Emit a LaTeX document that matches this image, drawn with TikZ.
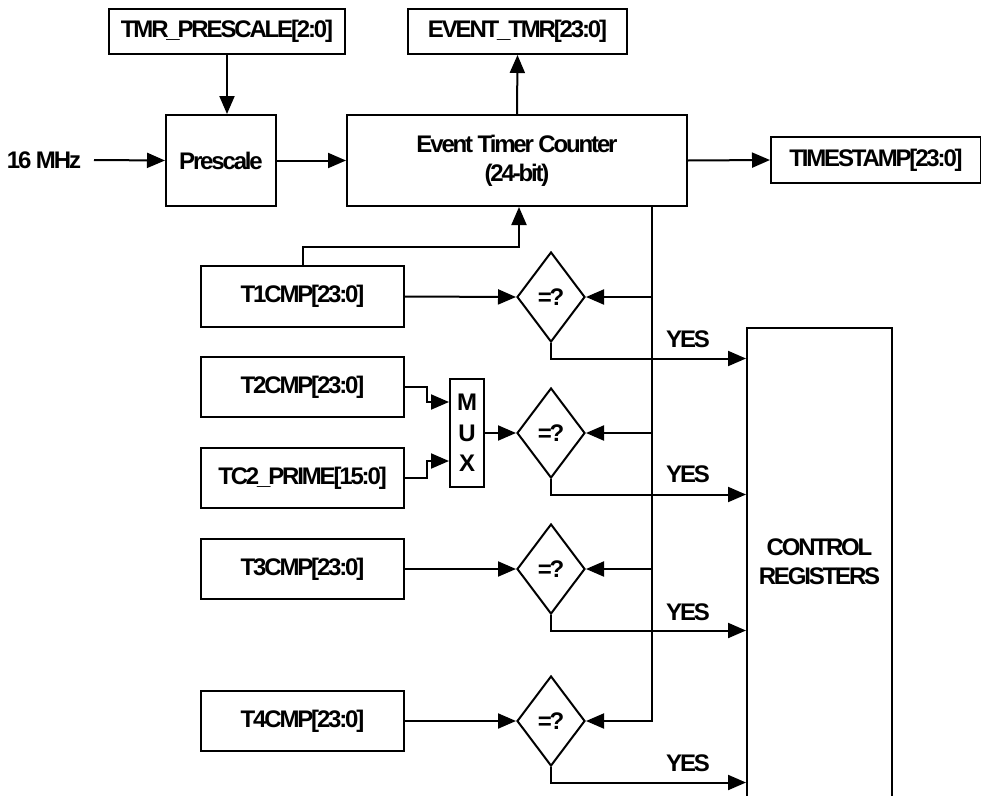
\documentclass[tikz,border=0pt]{standalone}
\usepackage{fontspec}
\setmainfont{Liberation Sans}[LetterSpace=-9]
\usetikzlibrary{arrows.meta,shapes.geometric}
\begin{document}
\begin{tikzpicture}[x=1pt,y=-1pt,
  every node/.style={font=\fontsize{24}{29}\selectfont\bfseries, inner sep=0pt},
  box/.style={draw, line width=2pt, rectangle, align=center},
  cmpbox/.style={box, minimum width=203pt, minimum height=60pt},
  cmp/.style={draw, line width=2pt, diamond, minimum width=68pt, minimum height=90pt},
  wire/.style={line width=2pt},
  flow/.style={wire, -{Triangle[length=18pt,width=15pt]}}]
\useasboundingbox (0,0) rectangle (981,795);

% top row: prescaler and event timer counter
\node[box, minimum width=236pt, minimum height=45pt] (prs) at (227,31.5) {TMR\_PRESCALE[2:0]};
\node[box, minimum width=219pt, minimum height=45pt] (evt) at (517.5,31.5) {EVENT\_TMR[23:0]};
\node[box, minimum width=110pt, minimum height=91pt] (pre) at (221,160.5) {Prescale};
\node[box, minimum width=340pt, minimum height=91pt, text depth=4pt] (etc) at (517,160.5) {Event Timer Counter\\(24-bit)};
\node[box, minimum width=210pt, minimum height=46pt] (ts) at (876,160) {TIMESTAMP[23:0]};
\node (clk) at (44,160) {16 MHz};
\coordinate (clkout) at (94,160);

% compare registers
\node[cmpbox, minimum height=61pt] (t1) at (302.5,296.5) {T1CMP[23:0]};
\node[cmpbox] (t2) at (302.5,387) {T2CMP[23:0]};
\node[cmpbox] (tc2) at (302.5,478) {TC2\_PRIME[15:0]};
\node[cmpbox] (t3) at (302.5,569) {T3CMP[23:0]};
\node[cmpbox] (t4) at (302.5,721) {T4CMP[23:0]};

% multiplexer
\node[box, minimum width=34pt, minimum height=108pt, font=\fontsize{24}{30.5}\selectfont\bfseries] (mux) at (467,433) {M\\U\\X};

% comparators
\node[cmp] (d1) at (551,297) {=?};
\node[cmp] (d2) at (551,433) {=?};
\node[cmp] (d3) at (551,569) {=?};
\node[cmp] (d4) at (551,721) {=?};

% control registers (bottom edge runs off the page)
\node[box, minimum width=145pt, minimum height=477pt, text depth=9pt] (cr) at (819.5,566.5) {CONTROL\\REGISTERS};

% YES labels
\node (y1) at (688,339) {YES};
\node (y2) at (688,474) {YES};
\node (y3) at (688,612) {YES};
\node (y4) at (688,763) {YES};

% counter bus tap
\coordinate (bustop) at (652,206);

% connectors
\draw[flow] (prs.south) -- (prs.south |- pre.north);
\draw[flow] (clkout) -- (pre.west);
\draw[flow] (pre.east) -- (etc.west);
\draw[flow] (etc.north) -- (evt.south);
\draw[flow] (etc.east) -- (ts.west);
\draw[flow] (t1.north) -- ++(0,-18) -| ([xshift=2pt]etc.south);

\draw[flow] (t1.east) -- (d1.west);
\draw[flow] (t2.east) -- ++(22,0) |- ([yshift=31pt]mux.west);
\draw[flow] (tc2.east) -- ++(22,0) |- ([yshift=-28pt]mux.west);
\draw[flow] (mux.east) -- (d2.west);
\draw[flow] (t3.east) -- (d3.west);
\draw[flow] (t4.east) -- (d4.west);

\draw[flow] (bustop) |- (d4.east);
\foreach \d in {d1,d2,d3} \draw[flow] (bustop |- \d.east) -- (\d.east);

\foreach \d in {d1,d2,d3,d4} \draw[flow] (\d.south) |- ([yshift=-15.5pt]\d.south -| cr.west);
\end{tikzpicture}
\end{document}
